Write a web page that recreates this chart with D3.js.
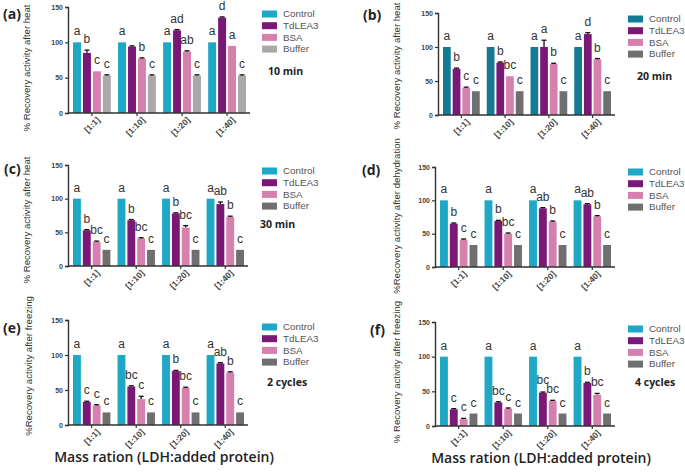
<!DOCTYPE html>
<html><head><meta charset="utf-8">
<script src="https://cdn.jsdelivr.net/npm/d3@7/dist/d3.min.js"></script>
<style>
body{margin:0;background:#fff;}
svg{display:block;font-family:"Liberation Sans",Arial,sans-serif;}
</style></head>
<body>
<svg id="chart" width="685" height="472"></svg>
<script>
// ---------- DATA ----------
const categories = ["[1:1]", "[1:10]", "[1:20]", "[1:40]"];
const seriesNames = ["Control", "TdLEA3", "BSA", "Buffer"];
const yTicks = [0, 50, 100, 150];
const xTitle = "Mass ration (LDH:added protein)";

// values: rows = series (Control, TdLEA3, BSA, Buffer), cols = categories
const valuesA = [[100,100,100,100],[85,94,117,135],[59,77,87,95],[53,53,53,53]];
const valuesB = [[100,100,100,100],[68,77,100,119],[40,57,75,82],[35,35,35,35]];
const valuesC = [[100,100,100,100],[53,68,78,92],[36,41,57,73],[24,24,24,24]];
const valuesD = [[100,100,100,100],[65,69,88,94],[41,50,68,76],[33,33,33,33]];
const valuesE = [[100,100,100,100],[33,55,77,88],[28,37,53,75],[18,18,18,18]];
const valuesF = [[100,100,100,100],[24,34,48,62],[10,25,36,45],[18,18,18,18]];

const errorsA = [[0,0,0,0],[4,1,1,1],[0,1,1,0],[1,1,1,1]];
const errorsB = [[0,0,0,0],[1,1,10,2],[1,0,1,1],[0,0,0,0]];
const errorsC = [[0,0,0,0],[1,1,1,3],[1,1,3,1],[0,0,0,0]];
const errorsD = [[0,0,0,0],[1,1,1,1],[1,1,1,1],[0,0,0,0]];
const errorsE = [[0,0,0,0],[1,1,1,1],[1,4,1,1],[0,0,0,0]];
const errorsF = [[0,0,0,0],[1,1,1,1],[1,1,1,2],[0,0,0,0]];

const lettersA = [["a","a","a","a"],["b","","ad","d"],["c","b","ab","a"],["c","c","c","c"]];
const lettersB = [["a","a","a","a"],["b","b","a","d"],["c","bc","b","b"],["c","c","c","c"]];
const lettersC = [["a","a","a","a"],["b","b","b","ab"],["bc","bc","bc","b"],["c","c","c","c"]];
const lettersD = [["a","a","a","a"],["b","b","ab","ab"],["c","bc","b","b"],["c","c","c","c"]];
const lettersE = [["a","a","a","a"],["c","bc","b","ab"],["c","c","bc","b"],["c","c","c","c"]];
const lettersF = [["a","a","a","a"],["c","bc","bc","b"],["c","c","bc","bc"],["c","c","c","c"]];

const panelLabels = ["(a)","(b)","(c)","(d)","(e)","(f)"];
const yLabels = ["% Recovery activity after heat","% Recovery activity after heat","% Recovery activity after heat",
                 "%Recovery activity after dehydration","%Recovery activity after freezing","% Recovery activity after freezing"];
const conditionLabels = ["10 min","20 min","30 min","","2 cycles","4 cycles"];

// ---------- STYLE / LAYOUT ----------
const colorsLight = ["#1ea8c6","#7a1877","#d680ae","#a9a9a9"];
const colorsB = ["#147b95","#7a1877","#d680ae","#6f6f6f"];
const colorsDark = ["#1ea8c6","#7a1877","#d680ae","#6f6f6f"];

const panels = [
  {v:valuesA,e:errorsA,l:lettersA,c:colorsLight,x0:68,x1:250,yt:7,yb:113,lx:3,ly:19,ylx:30,yly:68,legX:262,legY:14,condX:268,condY:75},
  {v:valuesB,e:errorsB,l:lettersB,c:colorsB,x0:438,x1:615,yt:13,yb:115,lx:363,ly:20,ylx:400,yly:66,legX:628,legY:19,condX:637,condY:80},
  {v:valuesC,e:errorsC,l:lettersC,c:colorsDark,x0:68,x1:248,yt:165,yb:266,lx:4,ly:174,ylx:30,yly:220,legX:262,legY:171,condX:260,condY:228},
  {v:valuesD,e:errorsD,l:lettersD,c:colorsDark,x0:435,x1:615,yt:167,yb:267,lx:362,ly:175,ylx:400,yly:216,legX:628,legY:172,condX:0,condY:0},
  {v:valuesE,e:errorsE,l:lettersE,c:colorsDark,x0:68,x1:248,yt:320,yb:425,lx:3,ly:333,ylx:32,yly:366,legX:262,legY:327,condX:267,condY:386},
  {v:valuesF,e:errorsF,l:lettersF,c:colorsDark,x0:435,x1:615,yt:322,yb:426,lx:370,ly:335,ylx:400,yly:372,legX:628,legY:329,condX:635,condY:386}
];

const svg = d3.select("#chart");

panels.forEach((p, pi) => {
  const g = svg.append("g");
  const y = d3.scaleLinear().domain([0,150]).range([p.yb, p.yt]);
  const x = d3.scaleBand().domain(categories).range([p.x0+5, p.x1-4]).paddingInner(0.16).paddingOuter(0);
  const xs = d3.scaleBand().domain(seriesNames).range([0, x.bandwidth()]).paddingInner(0.2);

  categories.forEach((cat, ci) => {
    const labelNodes = [];
    seriesNames.forEach((s, si) => {
      const val = p.v[si][ci], err = p.e[si][ci];
      const bx = x(cat) + xs(s), bw = xs.bandwidth();
      g.append("rect").attr("x", bx).attr("y", y(val)).attr("width", bw)
        .attr("height", y(0) - y(val)).attr("fill", p.c[si]);
      if (err > 0) {
        const cx = bx + bw/2;
        g.append("line").attr("x1",cx).attr("x2",cx).attr("y1",y(val)).attr("y2",y(val+err))
          .attr("stroke","#111").attr("stroke-width",1.3);
        g.append("line").attr("x1",cx-2.5).attr("x2",cx+2.5).attr("y1",y(val+err)).attr("y2",y(val+err))
          .attr("stroke","#111").attr("stroke-width",1.3);
      }
      const lt = p.l[si][ci];
      if (lt) {
        const t = g.append("text").attr("x", bx + bw/2).attr("y", y(val+err) - 7)
          .attr("text-anchor","middle").attr("font-size", 12).attr("fill","#333").text(lt);
        labelNodes.push(t);
      } else labelNodes.push(null);
    });
    // lift a left label when it collides with its right neighbour
    for (let i = labelNodes.length - 1; i > 0; i--) {
      const r = labelNodes[i], l = labelNodes[i-1];
      if (!r || !l) continue;
      const rb = r.node().getBBox(), lb = l.node().getBBox();
      const hOverlap = lb.x + lb.width > rb.x + 0.5 && rb.x + rb.width > lb.x + 0.5;
      const lBottom = lb.y + lb.height - 3; // ignore descender space
      if (hOverlap && lBottom > rb.y + 2) {
        const shift = lBottom - (rb.y + 2);
        l.attr("y", +l.attr("y") - shift);
      }
    }
  });

  // y axis
  const yAxis = g.append("g").attr("transform",`translate(${p.x0},0)`)
    .call(d3.axisLeft(y).tickValues(yTicks).tickSize(3).tickPadding(2));
  yAxis.select(".domain").attr("stroke","#333").attr("stroke-width",1.4);
  yAxis.selectAll(".tick line").attr("stroke","#333").attr("stroke-width",1.2);
  yAxis.selectAll(".tick text").attr("font-size",7).attr("font-weight","bold").attr("fill","#444")
    .attr("font-family","Liberation Sans, Arial, sans-serif");

  // x axis
  const xAxis = g.append("g").attr("transform",`translate(0,${p.yb})`)
    .call(d3.axisBottom(x).tickSize(3).tickSizeOuter(0).tickPadding(2));
  xAxis.select(".domain").attr("stroke","#333").attr("stroke-width",1.4)
    .attr("d", `M${p.x0},0H${p.x1}`);
  xAxis.selectAll(".tick line").attr("stroke","#333").attr("stroke-width",1.2);
  xAxis.selectAll(".tick text").attr("font-size",8.5).attr("font-weight","bold").attr("fill","#444")
    .attr("font-family","Liberation Sans, Arial, sans-serif")
    .attr("text-anchor","end").attr("dy",0)
    .attr("transform","translate(5,4) rotate(-45)");

  // panel label
  g.append("text").attr("x",p.lx).attr("y",p.ly).attr("font-size",14).attr("font-weight","bold")
    .attr("font-family","Open Sans, sans-serif").attr("fill","#222").text(panelLabels[pi]);

  // y label
  g.append("text").attr("transform",`translate(${p.ylx},${p.yly}) rotate(-90)`)
    .attr("text-anchor","middle").attr("font-size",9.6).attr("fill","#333").text(yLabels[pi]);

  // legend
  seriesNames.forEach((s, si) => {
    const cy = p.legY + si*11.7;
    g.append("rect").attr("x",p.legX).attr("y",cy-3.5).attr("width",15).attr("height",7).attr("fill",p.c[si]);
    g.append("text").attr("x",p.legX+21).attr("y",cy+3.3).attr("font-size",9.8).attr("fill","#555").text(s);
  });

  // condition label
  if (conditionLabels[pi]) {
    g.append("text").attr("x",p.condX).attr("y",p.condY).attr("font-size",10.5).attr("font-weight","bold")
      .attr("font-family","Open Sans, sans-serif").attr("fill","#222").text(conditionLabels[pi]);
  }
});

// x titles
[[164,462],[541,463]].forEach(([cx,cy]) => {
  svg.append("text").attr("x",cx).attr("y",cy).attr("text-anchor","middle")
    .attr("font-size",14).attr("font-weight",600).attr("font-family","Open Sans, sans-serif")
    .attr("fill","#222").text(xTitle);
});
</script>
</body></html>
